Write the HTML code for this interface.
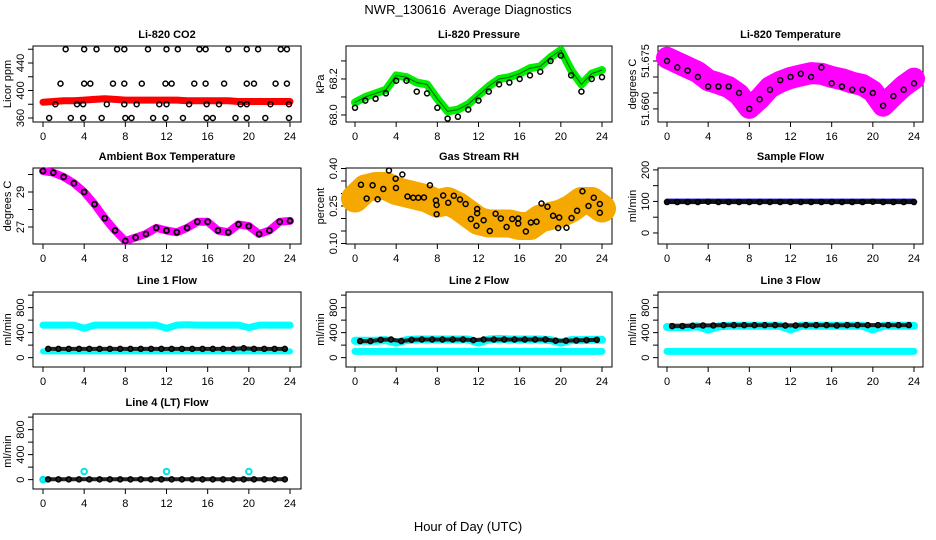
<!DOCTYPE html>
<html><head><meta charset="utf-8"><style>
html,body{margin:0;padding:0;background:#fff;}
svg{display:block;font-family:"Liberation Sans",sans-serif;}
</style></head><body>
<svg id="chart" width="936" height="540" viewBox="0 0 936 540" xmlns="http://www.w3.org/2000/svg">
<text x="468" y="14" text-anchor="middle" font-size="13">NWR_130616&#160; Average Diagnostics</text>
<text x="468" y="531" text-anchor="middle" font-size="13">Hour of Day (UTC)</text>
</svg>
<script>
const hours = [0,1,2,3,4,5,6,7,8,9,10,11,12,13,14,15,16,17,18,19,20,21,22,23,24];
const xTicks = [0,4,8,12,16,20,24];

const co2Red = [383,384,385,385,386,387,388,387,386,386,386,386,386,386,385,385,385,385,385,384,384,384,384,384,384];
const co2BlackHours = [2.2,4.0,5.2,7.2,7.9,10.2,12.0,13.1,15.2,15.8,18.0,19.8,20.9,23.1,23.7,
 1.7,4.0,4.6,6.8,7.9,9.6,11.9,12.5,14.7,15.8,17.6,19.8,20.5,22.6,23.7,
 1.2,3.3,3.9,6.2,7.9,9.1,11.3,12.0,14.2,15.9,17.1,19.2,19.8,22.1,23.9,
 0.6,2.7,3.9,5.7,8.0,8.6,10.7,11.9,13.6,15.9,16.5,18.7,19.8,21.6,23.9];
const co2BlackVals = [460,460,460,460,460,460,460,460,460,460,460,460,460,460,460,
 410,410,410,410,410,410,410,410,410,410,410,410,410,410,410,
 380,380,380,380,380,380,380,380,380,380,380,380,380,380,380,
 360,360,360,360,360,360,360,360,360,360,360,360,360,360,360];

const pressGreen = [68.07,68.10,68.12,68.14,68.22,68.21,68.18,68.17,68.09,68.02,68.03,68.06,68.11,68.16,68.20,68.21,68.23,68.26,68.27,68.32,68.36,68.25,68.17,68.23,68.25];
const pressBlack = [68.04,68.08,68.09,68.12,68.19,68.19,68.13,68.12,68.04,67.98,67.99,68.03,68.08,68.13,68.17,68.18,68.20,68.22,68.24,68.30,68.33,68.22,68.13,68.20,68.21];

const tempMagenta = [51.6760,51.6745,51.6730,51.6715,51.6690,51.6680,51.6668,51.6645,51.6603,51.6632,51.6668,51.6685,51.6697,51.6705,51.6712,51.6710,51.6700,51.6693,51.6682,51.6675,51.6655,51.6610,51.6642,51.6672,51.6695];
const tempBlack = [51.675,51.673,51.672,51.670,51.667,51.667,51.667,51.665,51.660,51.663,51.666,51.669,51.670,51.671,51.670,51.673,51.668,51.667,51.666,51.666,51.665,51.661,51.664,51.666,51.668];

const ambMagenta = [30.2,30.1,29.86,29.5,29.0,28.3,27.5,26.8,26.2,26.4,26.6,26.95,26.8,26.7,26.95,27.3,27.3,26.8,26.7,27.15,27.05,26.6,26.8,27.3,27.35];

const rhBand = [0.28,0.32,0.33,0.33,0.31,0.30,0.29,0.28,0.26,0.27,0.25,0.22,0.19,0.18,0.18,0.18,0.17,0.17,0.20,0.21,0.22,0.24,0.27,0.27,0.24];
const rhBlackHours = [0.58,1.13,1.71,2.2,2.75,3.3,3.95,3.98,4.6,5.1,5.66,6.15,6.7,7.28,7.86,7.93,7.93,8.57,9.06,9.6,10.2,10.75,11.26,11.8,11.87,11.87,12.5,13.1,13.66,14.17,14.73,15.28,15.86,15.86,16.6,17.09,17.64,18.12,18.7,19.25,19.74,19.84,20.55,21.04,21.58,22.1,22.69,23.2,23.79,23.79];
const rhBlackVals = [0.335,0.28,0.333,0.277,0.318,0.392,0.359,0.322,0.376,0.288,0.283,0.283,0.284,0.333,0.272,0.254,0.217,0.292,0.263,0.291,0.276,0.258,0.198,0.171,0.221,0.238,0.193,0.15,0.219,0.2,0.166,0.198,0.18,0.2,0.148,0.184,0.187,0.26,0.247,0.211,0.162,0.204,0.163,0.202,0.231,0.309,0.25,0.283,0.258,0.223];

const sampleBlue = [101,101,101,101,101,101,101,101,101,101,101,101,101,101,101,101,101,101,101,101,101,101,101,101,101];
const sampleBlack = [98,98,98,98,99,98,98,98,98,98,98,98,98,98,98,98,98,98,98,98,99,98,98,98,98];

const l1CyanHigh = [520,520,520,520,470,520,520,520,520,520,520,520,470,520,525,520,520,520,520,520,480,520,520,520,520];
const l1CyanLow = [100,100,100,100,100,100,100,100,100,100,100,100,100,100,100,100,100,100,100,100,100,100,100,100,100];
const l1Black = [140,140,140,140,140,140,140,140,140,140,140,140,140,140,140,140,140,140,140,140,150,140,140,140,140];

const l2CyanHigh = [270,270,270,280,240,280,290,290,290,290,290,290,240,290,300,290,290,290,290,280,240,280,280,285,285];
const l2CyanLow = [100,100,100,100,100,100,100,100,100,100,100,100,100,100,100,100,100,100,100,100,100,100,100,100,100];
const l2Black = [265,265,265,285,290,265,285,290,290,290,290,290,280,290,290,290,290,290,290,290,270,270,275,280,285];

const l3CyanHigh = [490,490,490,500,450,500,510,510,510,510,510,510,450,510,510,510,510,510,510,510,450,510,510,510,510];
const l3CyanLow = [100,100,100,100,100,100,100,100,100,100,100,100,100,100,100,100,100,100,100,100,100,100,100,100,100];
const l3Black = [505,505,505,510,515,515,520,520,520,520,520,520,515,515,520,520,520,515,520,520,520,520,520,520,520];

const l4CyanHours = [0,4,12,20];
const l4CyanVals = [0,130,130,130];
const l4Black = [5,5,5,5,5,5,5,5,5,5,5,5,5,5,5,5,5,5,5,5,5,5,5,5,5];

const colLeft = [33,346,658], colRight = [301,612,923], colX0 = [43,355,667];
const rowTop = [46,168,292,414], rowH = [76,76,75,75];
const NS = "http://www.w3.org/2000/svg";
const svg = document.getElementById('chart');

function mk(tag, attrs, parent){
  const el = document.createElementNS(NS, tag);
  for (const k in attrs) el.setAttribute(k, attrs[k]);
  (parent||svg).appendChild(el);
  return el;
}
function panel(col,row,title,ylab,ymin,ymax,ticks,labels){
  const p = {left:colLeft[col], right:colRight[col], x0:colX0[col], top:rowTop[row], h:rowH[row], ymin:ymin, ymax:ymax};
  p.x = h => p.x0 + h*247/24;
  p.y = v => p.top + (p.ymax - v)/(p.ymax - p.ymin)*p.h;
  const g = mk('g',{});
  
  
  p.g = g;
  const box = mk('rect',{x:p.left,y:p.top,width:p.right-p.left,height:p.h,fill:'none',stroke:'#000','stroke-width':1},g);
  
  
  const t = mk('text',{x:(p.left+p.right)/2,y:p.top-8,'text-anchor':'middle','font-size':11,'font-weight':'bold'},g);
  t.textContent = title;
  
  
  const yl = mk('text',{transform:`translate(${p.left-22},${p.top+p.h/2}) rotate(-90)`,'text-anchor':'middle','font-size':11},g);
  yl.textContent = ylab;
  
  
  const bx = p.top + p.h;
  xTicks.forEach(v=>{
    const tk = mk('line',{x1:p.x(v),x2:p.x(v),y1:bx,y2:bx+5,stroke:'#000'},g);
    
    
    const tl = mk('text',{x:p.x(v),y:bx+18,'text-anchor':'middle','font-size':11},g);
    tl.textContent = v;
    
    
  });
  ticks.forEach((v,i)=>{
    const yy = p.y(v);
    const tk = mk('line',{x1:p.left-5,x2:p.left,y1:yy,y2:yy,stroke:'#000'},g);
    
    
    if (labels[i] !== ''){
      const tl = mk('text',{transform:`translate(${p.left-9},${yy}) rotate(-90)`,'text-anchor':'middle','font-size':11},g);
      tl.textContent = labels[i];
      
      
    }
  });
  return p;
}
function band(p, xs, vs, color, w, name){
  const pts = xs.map((h,i)=>p.x(h).toFixed(1)+','+p.y(vs[i]).toFixed(1)).join(' ');
  const pl = mk('polyline',{points:pts,fill:'none',stroke:color,'stroke-width':w,'stroke-linejoin':'round','stroke-linecap':'round'},p.g);
  
  
}
function dots(p, xs, vs, color, r, sw, name){
  xs.forEach((h,i)=>{
    const c = mk('circle',{cx:p.x(h),cy:p.y(vs[i]),r:r,fill:'none',stroke:color,'stroke-width':sw},p.g);
    
    
  });
}

let p = panel(0,0,'Li-820 CO2','Licor ppm',354.2,464.7,[360,380,400,420,440,460],['360','','400','','440','']);
band(p,hours,co2Red,'#ff0000',7,'co2-red-band');
dots(p,co2BlackHours,co2BlackVals,'#000',2.5,1.5,'co2-point');

p = panel(1,0,'Li-820 Pressure','kPa',67.961,68.383,[68.0,68.1,68.2,68.3],['68.0','','68.2','']);
band(p,hours,pressGreen,'#00ee00',8,'pressure-green-band');
band(p,hours,pressGreen,'#006600',1,'pressure-green-dots');
dots(p,hours,pressBlack,'#000',2.5,1.5,'pressure-point');

p = panel(2,0,'Li-820 Temperature','degrees C',51.6559,51.6797,[51.660,51.665,51.670,51.675],['51.660','','','51.675']);
band(p,hours,tempMagenta,'#ff00ff',22,'temperature-magenta-band');
dots(p,hours,tempBlack,'#000',2.5,1.5,'temperature-point');

p = panel(0,1,'Ambient Box Temperature','degrees C',26.03,30.37,[27,28,29,30],['27','','29','']);
band(p,hours,ambMagenta,'#ff00ff',8,'ambient-magenta-band');
dots(p,hours,ambMagenta,'#000',2.5,1.8,'ambient-point');

p = panel(1,1,'Gas Stream RH','percent',0.098,0.402,[0.10,0.15,0.20,0.25,0.30,0.35,0.40],['0.10','','','0.25','','','0.40']);
band(p,hours,rhBand,'#f5a800',28,'rh-orange-band');
dots(p,rhBlackHours,rhBlackVals,'#000',2.5,1.5,'rh-point');

p = panel(2,1,'Sample Flow','ml/min',-35,206,[0,50,100,150,200],['0','','100','','200']);
band(p,hours,sampleBlue,'#0000ff',5,'sample-blue-band');
band(p,hours,sampleBlack,'#111',4,'sample-black-band');
dots(p,hours,sampleBlack,'#000',2.5,1.5,'sample-point');

const flowTicks = [0,200,400,600,800,1000], flowLabels = ['0','','400','','800',''];
p = panel(0,2,'Line 1 Flow','ml/min',-150,1050,flowTicks,flowLabels);
band(p,hours,l1CyanHigh,'#00ffff',7,'line1-cyan-high');
band(p,hours,l1CyanLow,'#00ffff',6,'line1-cyan-low');
band(p,hours.slice(1).map(h=>h-0.5),l1Black.slice(1),'#222',4,'line1-black-band');
dots(p,hours.slice(1).map(h=>h-0.5),l1Black.slice(1),'#000',2.5,1.5,'line1-point');

p = panel(1,2,'Line 2 Flow','ml/min',-150,1050,flowTicks,flowLabels);
band(p,hours,l2CyanHigh,'#00ffff',8,'line2-cyan-high');
band(p,hours,l2CyanLow,'#00ffff',7,'line2-cyan-low');
band(p,hours.slice(1).map(h=>h-0.5),l2Black.slice(1),'#222',4,'line2-black-band');
dots(p,hours.slice(1).map(h=>h-0.5),l2Black.slice(1),'#000',2.5,1.5,'line2-point');

p = panel(2,2,'Line 3 Flow','ml/min',-150,1050,flowTicks,flowLabels);
band(p,hours,l3CyanHigh,'#00ffff',8,'line3-cyan-high');
band(p,hours,l3CyanLow,'#00ffff',7,'line3-cyan-low');
band(p,hours.slice(1).map(h=>h-0.5),l3Black.slice(1),'#222',4,'line3-black-band');
dots(p,hours.slice(1).map(h=>h-0.5),l3Black.slice(1),'#000',2.5,1.5,'line3-point');

p = panel(0,3,'Line 4 (LT) Flow','ml/min',-150,1050,flowTicks,flowLabels);
band(p,[0,0.3],[0,0],'#00ffff',6,'line4-cyan-band');
dots(p,l4CyanHours,l4CyanVals,'#00e5e5',2.8,2,'line4-cyan-point');
band(p,hours.slice(1).map(h=>h-0.5),l4Black.slice(1),'#222',4,'line4-black-band');
dots(p,hours.slice(1).map(h=>h-0.5),l4Black.slice(1),'#000',2.5,1.5,'line4-point');
</script>
</body></html>
